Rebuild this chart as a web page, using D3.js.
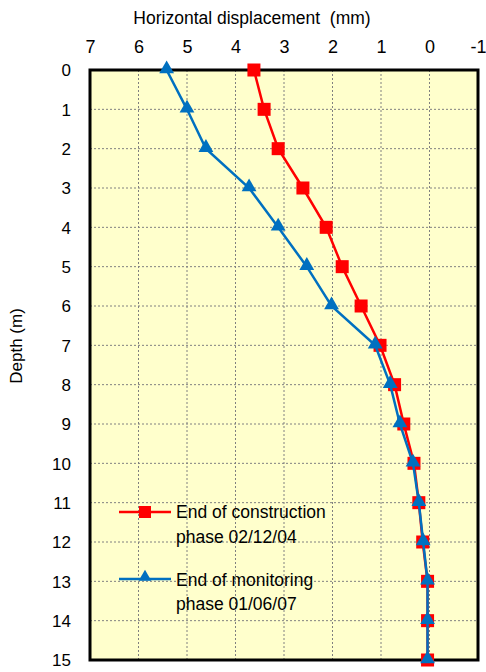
<!DOCTYPE html>
<html><head><meta charset="utf-8">
<script src="https://cdn.jsdelivr.net/npm/d3@7"></script>
<style>body{margin:0;background:#fff}svg{display:block}text{font-family:"Liberation Sans",Arial,sans-serif;fill:#000}</style>
</head><body>
<script>
const depths = [0,1,2,3,4,5,6,7,8,9,10,11,12,13,14,15];
const construction = [3.62,3.41,3.12,2.61,2.13,1.8,1.41,1.02,0.72,0.53,0.32,0.22,0.14,0.04,0.04,0.04];
const monitoring = [5.42,5.0,4.61,3.72,3.12,2.53,2.02,1.12,0.81,0.61,0.34,0.22,0.13,0.04,0.04,0.04];
const xTicks = [7,6,5,4,3,2,1,0,-1];
const yTicks = [0,1,2,3,4,5,6,7,8,9,10,11,12,13,14,15];
const seriesNames = [["End of construction","phase 02/12/04"],["End of monitoring","phase 01/06/07"]];

const W=486,H=672;
const L=90,R=478,T=70,B=660;
const svg=d3.select("body").append("svg").attr("width",W).attr("height",H);
const x=d3.scaleLinear().domain([7,-1]).range([L,R]);
const y=d3.scaleLinear().domain([0,15]).range([T,B]);

svg.append("rect").attr("x",L).attr("y",T).attr("width",R-L).attr("height",B-T).attr("fill","#FFFFCC");
// grid
svg.append("g").selectAll("line").data(xTicks.slice(1,-1)).join("line")
 .attr("x1",d=>x(d)).attr("x2",d=>x(d)).attr("y1",T).attr("y2",B)
 .attr("stroke","#808080").attr("stroke-width",1).attr("stroke-dasharray","2,2");
svg.append("g").selectAll("line").data(yTicks.slice(1,-1)).join("line")
 .attr("y1",d=>y(d)).attr("y2",d=>y(d)).attr("x1",L).attr("x2",R)
 .attr("stroke","#808080").attr("stroke-width",1).attr("stroke-dasharray","2,2");
svg.append("rect").attr("x",L).attr("y",T).attr("width",R-L).attr("height",B-T).attr("fill","none").attr("stroke","#000").attr("stroke-width",3);

// axes
const xa=svg.append("g").attr("transform",`translate(0,${T})`).call(d3.axisTop(x).tickValues(xTicks).tickSize(0).tickPadding(0).tickFormat(d=>String(d)));
xa.select(".domain").remove();
xa.selectAll("text").attr("y",-17).attr("dy",0).attr("font-size",18).style("font-family",'"Liberation Sans",Arial,sans-serif');
const ya=svg.append("g").attr("transform",`translate(71,0)`).call(d3.axisLeft(y).tickValues(yTicks).tickSize(0).tickPadding(0).tickFormat(d=>String(d)));
ya.select(".domain").remove();
ya.selectAll("text").attr("x",0).attr("dy","0.35em").attr("font-size",17).style("font-family",'"Liberation Sans",Arial,sans-serif');

svg.append("text").attr("x",252).attr("y",24).attr("text-anchor","middle").attr("font-size",17.5).style("white-space","pre").text("Horizontal displacement  (mm)");
svg.append("text").attr("transform","translate(22,346) rotate(-90)").attr("text-anchor","middle").attr("font-size",17).text("Depth (m)");

const line=d3.line().x(d=>x(d[0])).y(d=>y(d[1]));
const red="#FF0000",blue="#0070C0";
const cData=construction.map((v,i)=>[v,depths[i]]);
const mData=monitoring.map((v,i)=>[v,depths[i]]);
const tri=d3.symbol().type(d3.symbolTriangle).size(95);

svg.append("path").datum(cData).attr("d",line).attr("fill","none").attr("stroke",red).attr("stroke-width",2.5);
svg.append("g").selectAll("rect").data(cData).join("rect")
 .attr("x",d=>x(d[0])-6.5).attr("y",d=>y(d[1])-6.5).attr("width",13).attr("height",13).attr("fill",red);
svg.append("path").datum(mData).attr("d",line).attr("fill","none").attr("stroke",blue).attr("stroke-width",2.5);
svg.append("g").selectAll("path").data(mData).join("path")
 .attr("transform",d=>`translate(${x(d[0])},${y(d[1])-1})`).attr("d",tri).attr("fill",blue);

// legend
const lg=svg.append("g");
lg.append("line").attr("x1",119).attr("x2",171).attr("y1",512).attr("y2",512).attr("stroke",red).attr("stroke-width",2.5);
lg.append("rect").attr("x",139).attr("y",506).attr("width",12).attr("height",12).attr("fill",red);
lg.append("line").attr("x1",119).attr("x2",171).attr("y1",579).attr("y2",579).attr("stroke",blue).attr("stroke-width",2.5);
lg.append("path").attr("transform","translate(145,577)").attr("d",d3.symbol().type(d3.symbolTriangle).size(70)).attr("fill",blue);
[[518,543],[586,610]].forEach((ys,i)=>{
  ys.forEach((yy,j)=>lg.append("text").attr("x",176).attr("y",yy).attr("font-size",17.5).text(seriesNames[i][j]));
});
</script>
</body></html>
